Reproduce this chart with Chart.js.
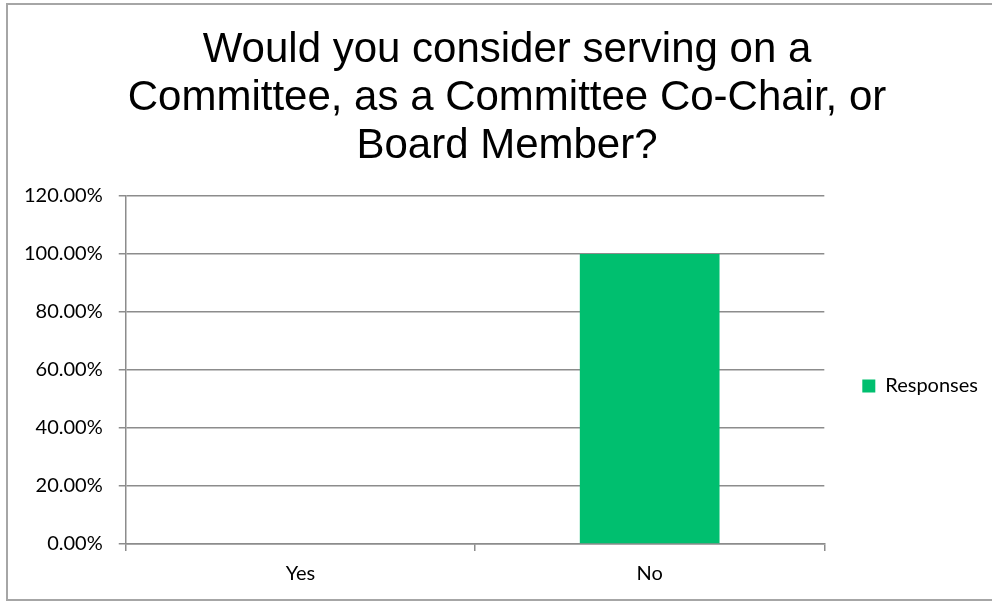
<!DOCTYPE html>
<html>
<head>
<meta charset="utf-8">
<script src="https://cdn.jsdelivr.net/npm/chart.js@4"></script>
<style>
  html, body { margin: 0; padding: 0; background: #fff; overflow: hidden; }
  #frame { position: absolute; left: 6px; top: 3px; width: 1100px; height: 598px; border: 2px solid #a6a6a6; box-sizing: border-box; }
  #wrap { position: absolute; left: 8px; top: 5px; width: 998px; height: 592px; }
</style>
</head>
<body>
<div id="frame"></div>
<div id="wrap"><canvas id="c"></canvas></div>
<script>
const titleLines = ["Would you consider serving on a", "Committee, as a Committee Co-Chair, or", "Board Member?"];
const categories = ["Yes", "No"];
const seriesName = "Responses";
const responses = [0, 1.0];
const yTicks = [0, 0.2, 0.4, 0.6, 0.8, 1.0, 1.2];

const grey = '#8c8c8c';
const tickFont = { family: 'Lato, "Open Sans", sans-serif', size: 20 };

// Moves the legend to sit a little right of the plot and slightly below its middle
const legendShift = {
  id: 'legendShift',
  afterUpdate(chart) {
    const lg = chart.legend, ca = chart.chartArea;
    if (!lg || !ca) return;
    const dx = -18;
    const targetMid = (ca.top + ca.bottom) / 2 + 16;
    const dy = targetMid - (lg.top + lg.bottom) / 2;
    lg.left += dx; lg.right += dx;
    lg.top += dy; lg.bottom += dy;
  }
};

new Chart(document.getElementById('c'), {
  type: 'bar',
  data: {
    labels: categories,
    datasets: [{
      label: seriesName,
      data: responses,
      backgroundColor: '#00BF6F',
      borderWidth: 0,
      barPercentage: 0.4,
      categoryPercentage: 1.0
    }]
  },
  options: {
    responsive: true,
    maintainAspectRatio: false,
    animation: false,
    layout: { padding: { left: 0, right: 0, top: 0, bottom: 0 } },
    plugins: {
      title: {
        display: true,
        text: titleLines,
        color: '#000',
        font: { family: '"Liberation Sans", Arial, sans-serif', size: 42, weight: 'normal', lineHeight: 48 / 42 },
        padding: { top: 21, bottom: 26 }
      },
      legend: {
        position: 'right',
        labels: {
          color: '#000',
          font: tickFont,
          boxWidth: 13,
          boxHeight: 13,
          padding: 56
        }
      },
      tooltip: { enabled: false }
    },
    scales: {
      x: {
        grid: { display: true, drawOnChartArea: false, drawTicks: true, tickLength: 7, offset: true, color: grey, lineWidth: 1.5 },
        border: { color: grey, width: 1.5 },
        ticks: { color: '#000', font: tickFont, padding: 11 }
      },
      y: {
        min: 0,
        max: 1.2,
        afterBuildTicks: (axis) => { axis.ticks = yTicks.map(v => ({ value: v })); },
        grid: { color: grey, lineWidth: 1.5, tickLength: 7 },
        border: { color: grey, width: 1.5 },
        ticks: { color: '#000', font: tickFont, padding: 16, callback: (v) => (v * 100).toFixed(2) + '%' }
      }
    }
  },
  plugins: [legendShift]
});
</script>
</body>
</html>
